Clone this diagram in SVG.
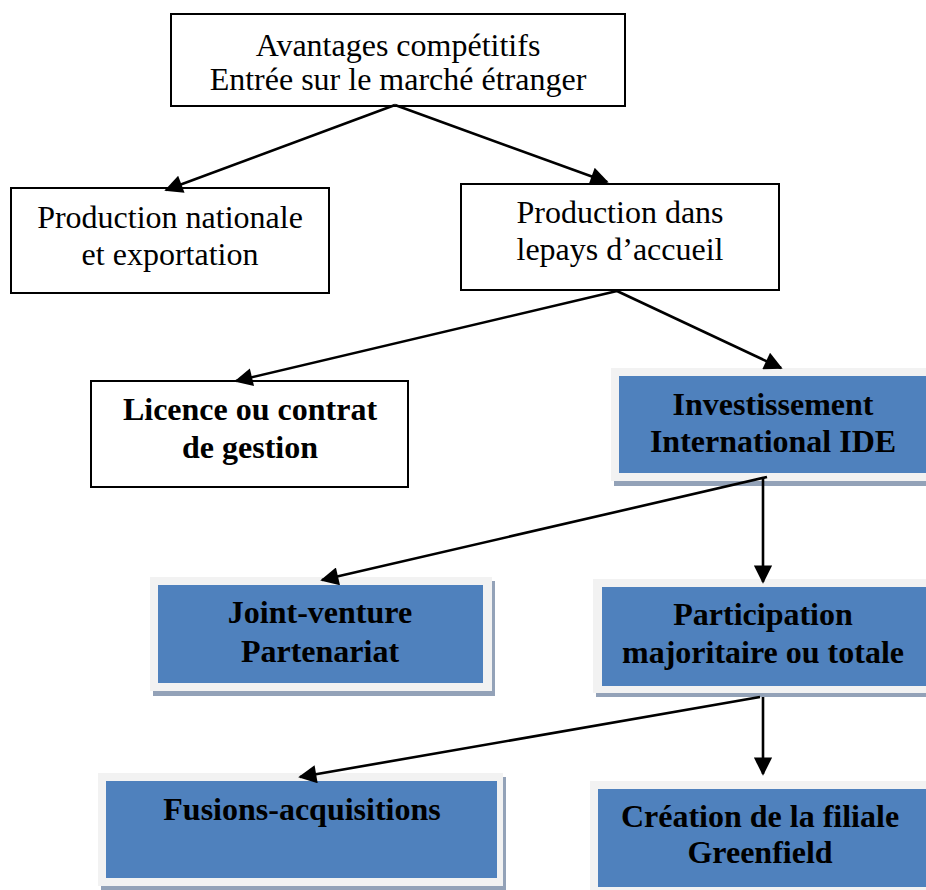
<svg xmlns="http://www.w3.org/2000/svg" width="926" height="890" viewBox="0 0 926 890">
<style>
.box{fill:#fff;stroke:#000;stroke-width:2}
.frame{fill:#f2f2f2}
.shadow{fill:#93a2b8}
.blue{fill:#4f81bd}
.t{font-family:"Liberation Serif","Times New Roman",serif;font-size:32px;fill:#000;text-anchor:middle}
.b{font-weight:bold}
.c{fill:none;stroke:#000;stroke-width:2.6}
</style>
<defs>
<marker id="ah" viewBox="0 0 10 10" refX="9" refY="5" markerWidth="9" markerHeight="7" orient="auto" markerUnits="strokeWidth">
<path d="M0,0 L10,5 L0,10 Z" fill="#000"/>
</marker>
</defs>
<rect width="926" height="890" fill="#fff"/>

<g id="n-avantages">
<rect class="box" x="171" y="14" width="454" height="92"/>
<text class="t" x="398" y="56">Avantages compétitifs</text>
<text class="t" x="398" y="90">Entrée sur le marché étranger</text>
</g>

<g id="n-nationale">
<rect class="box" x="11" y="188" width="318" height="105"/>
<text class="t" x="170" y="228">Production nationale</text>
<text class="t" x="170" y="265">et exportation</text>
</g>

<g id="n-accueil">
<rect class="box" x="461" y="184" width="318" height="106"/>
<text class="t" x="620" y="223">Production dans</text>
<text class="t" x="620" y="260">lepays d’accueil</text>
</g>

<g id="n-licence">
<rect class="box" x="91" y="381" width="317" height="106"/>
<text class="t b" x="250" y="420">Licence ou contrat</text>
<text class="t b" x="250" y="458">de gestion</text>
</g>

<g id="n-ide">
<rect class="shadow" x="614" y="372" width="320" height="114"/>
<rect class="frame" x="611" y="368" width="320" height="113"/>
<rect class="blue" x="619" y="376" width="320" height="97"/>
<text class="t b" x="773" y="415">Investissement</text>
<text class="t b" x="773" y="452">International IDE</text>
</g>

<g id="n-joint">
<rect class="shadow" x="153" y="581" width="342" height="115"/>
<rect class="frame" x="150" y="577" width="342" height="114"/>
<rect class="blue" x="158" y="585" width="325" height="98"/>
<text class="t b" x="320" y="623">Joint-venture</text>
<text class="t b" x="320" y="662">Partenariat</text>
</g>

<g id="n-participation">
<rect class="shadow" x="596" y="583" width="340" height="114"/>
<rect class="frame" x="593" y="579" width="340" height="114"/>
<rect class="blue" x="602" y="587" width="330" height="99"/>
<text class="t b" x="763" y="625">Participation</text>
<text class="t b" x="763" y="663">majoritaire ou totale</text>
</g>

<g id="n-fusions">
<rect class="shadow" x="101" y="777" width="405" height="113"/>
<rect class="frame" x="98" y="773" width="405" height="113"/>
<rect class="blue" x="106" y="781" width="391" height="97"/>
<text class="t b" x="302" y="820">Fusions-acquisitions</text>
</g>

<g id="n-creation">
<rect class="frame" x="590" y="781" width="340" height="120"/>
<rect class="blue" x="598" y="789" width="330" height="98"/>
<text class="t b" x="760" y="827">Création de la filiale</text>
<text class="t b" x="760" y="863">Greenfield</text>
</g>

<g id="connectors">
<path class="c" d="M395,105 L166,190" marker-end="url(#ah)"/>
<path class="c" d="M395,105 L607,182" marker-end="url(#ah)"/>
<path class="c" d="M617,291 L236,381" marker-end="url(#ah)"/>
<path class="c" d="M617,291 L781,368" marker-end="url(#ah)"/>
<path class="c" d="M767,477 L322,580" marker-end="url(#ah)"/>
<path class="c" d="M763,477 L763,582" marker-end="url(#ah)"/>
<path class="c" d="M760,697 L300,777" marker-end="url(#ah)"/>
<path class="c" d="M763,697 L763,774" marker-end="url(#ah)"/>
</g>
</svg>
